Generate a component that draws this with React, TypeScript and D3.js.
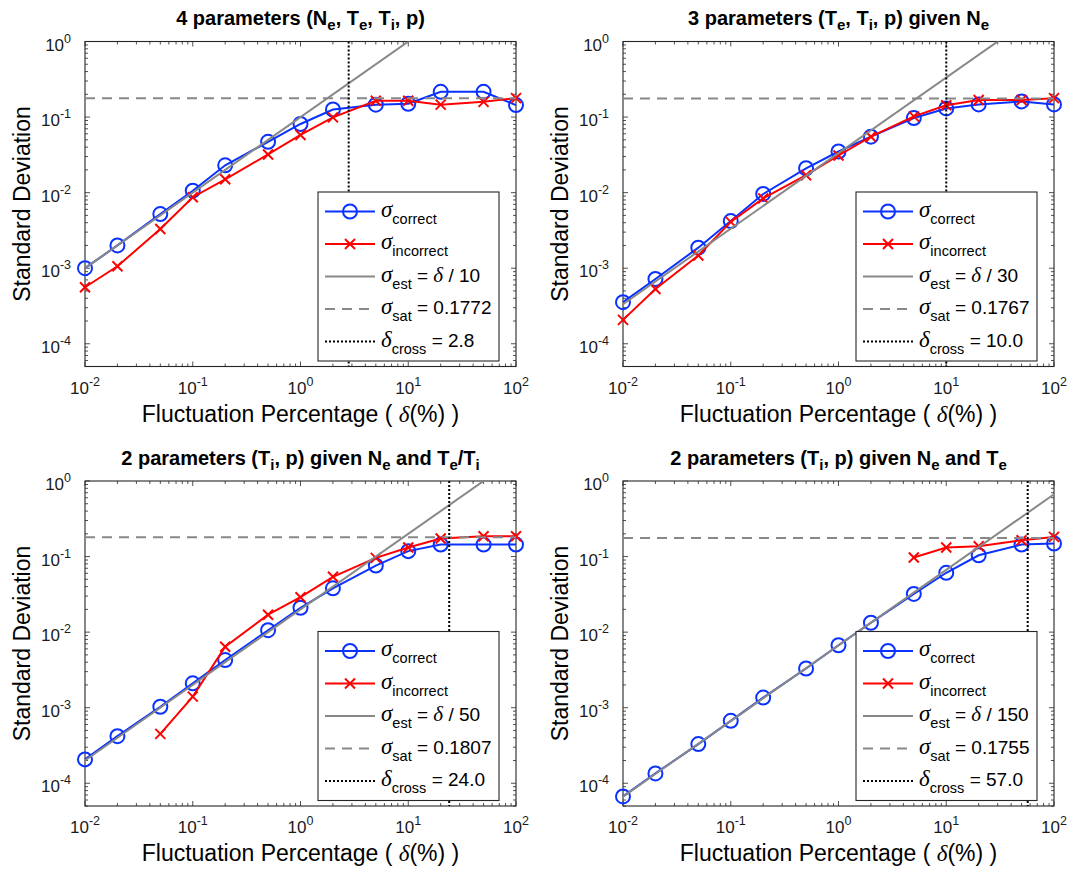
import React from 'react';
import * as d3 from 'd3';

// Fluctuation percentages at which the estimators were evaluated
const deltaPct = [0.01, 0.02, 0.05, 0.1, 0.2, 0.5, 1, 2, 5, 10, 20, 50, 100];

// Standard deviation of the correct / incorrect fits, one pair per parameter set
const correct4 = [1.0e-3, 2.0e-3, 5.2e-3, 1.06e-2, 2.3e-2, 4.7e-2, 0.081, 0.126, 0.146, 0.15, 0.216, 0.216, 0.144];
const incorrect4 = [5.6e-4, 1.06e-3, 3.3e-3, 8.7e-3, 1.5e-2, 3.2e-2, 0.058, 0.099, 0.164, 0.164, 0.146, 0.159, 0.178];

const correct3 = [3.55e-4, 7.2e-4, 1.87e-3, 4.2e-3, 9.6e-3, 0.021, 0.035, 0.055, 0.097, 0.13, 0.147, 0.161, 0.147];
const incorrect3 = [2.07e-4, 5.3e-4, 1.47e-3, 4.1e-3, 8.4e-3, 0.017, 0.031, 0.055, 0.102, 0.143, 0.168, 0.168, 0.178];

const correct2r = [2.07e-4, 4.2e-4, 1.03e-3, 2.1e-3, 4.27e-3, 0.0106, 0.021, 0.038, 0.076, 0.118, 0.144, 0.144, 0.144];
const incorrect2r = [null, null, 4.5e-4, 1.4e-3, 6.4e-3, 0.017, 0.029, 0.054, 0.096, 0.132, 0.173, 0.186, 0.186];

const correct2t = [6.7e-5, 1.35e-4, 3.3e-4, 6.7e-4, 1.36e-3, 3.3e-3, 6.7e-3, 0.0133, 0.032, 0.061, 0.104, 0.144, 0.149];
const incorrect2t = [null, null, null, null, null, null, null, null, 0.097, 0.132, 0.137, 0.164, 0.182];

// Reference lines: sigma_est = delta / divisor, saturation level, crossing point
const estDivisors = [10, 30, 50, 150];
const satLevels = [0.1772, 0.1767, 0.1807, 0.1755];
const crossPoints = [2.8, 10.0, 24.0, 57.0];

// Titles as [text, isSubscript] segments
const titles: [string, boolean][][] = [
  [['4 parameters (N', false], ['e', true], [', T', false], ['e', true], [', T', false], ['i', true], [', p)', false]],
  [['3 parameters (T', false], ['e', true], [', T', false], ['i', true], [', p) given N', false], ['e', true]],
  [['2 parameters (T', false], ['i', true], [', p) given N', false], ['e', true], [' and T', false], ['e', true], ['/T', false], ['i', true]],
  [['2 parameters (T', false], ['i', true], [', p) given N', false], ['e', true], [' and T', false], ['e', true]],
];

const xTicks = [0.01, 0.1, 1, 10, 100];
const yTicks = [1e-4, 1e-3, 1e-2, 1e-1, 1];

const SANS = "'Liberation Sans', Arial, Helvetica, sans-serif";
const SERIF = "'Liberation Serif', 'Times New Roman', serif";
const AX = '#262626';
const BLUE = '#0a32ff';
const RED = '#ff0000';
const GRAY = '#888888';

const W = 1071;
const H = 873;
const plotW = 431;
const plotH = 325;
const colX = [85, 623];
const rowY = [41.5, 481];

const x = d3.scaleLog().domain([0.01, 100]).range([0, plotW]);
const y = d3.scaleLog().domain([5e-5, 1]).range([plotH, 0]);

function minorTicks(lo: number, hi: number) {
  const out: number[] = [];
  for (let e = -5; e <= 2; e++) {
    for (let k = 2; k <= 9; k++) {
      const v = +(k * Math.pow(10, e)).toPrecision(6);
      if (v >= lo && v <= hi) out.push(v);
    }
  }
  return out;
}

function Title({ segs }: { segs: [string, boolean][] }) {
  let inSub = false;
  const parts = segs.map(([t, sub], i) => {
    let dy = 0;
    if (sub && !inSub) dy = 5;
    if (!sub && inSub) dy = -5;
    inSub = sub;
    return (
      <tspan key={i} dy={dy} fontSize={sub ? 15 : 20}>
        {t}
      </tspan>
    );
  });
  return (
    <text x={plotW / 2} y={-16.5} textAnchor="middle" fontFamily={SANS} fontWeight="bold" fontSize={20} fill="#000" style={{ whiteSpace: 'pre' }}>
      {parts}
    </text>
  );
}

function PowerLabel({ v }: { v: number }) {
  const e = Math.round(Math.log10(v));
  return (
    <>
      <tspan>10</tspan>
      <tspan fontSize={12.5} dy={-8}>
        {String(e)}
      </tspan>
    </>
  );
}

function Axes() {
  const mx = minorTicks(0.01, 100).filter((v) => !xTicks.includes(v));
  const my = minorTicks(5e-5, 1).filter((v) => !yTicks.includes(v));
  const major = 5;
  const minor = 3;
  return (
    <g stroke={AX} strokeWidth={0.8}>
      {xTicks.map((v) => (
        <g key={'mx' + v}>
          <line x1={x(v)} x2={x(v)} y1={plotH} y2={plotH - major} />
          <line x1={x(v)} x2={x(v)} y1={0} y2={major} />
        </g>
      ))}
      {mx.map((v) => (
        <g key={'nx' + v}>
          <line x1={x(v)} x2={x(v)} y1={plotH} y2={plotH - minor} />
          <line x1={x(v)} x2={x(v)} y1={0} y2={minor} />
        </g>
      ))}
      {yTicks.map((v) => (
        <g key={'my' + v}>
          <line x1={0} x2={major} y1={y(v)} y2={y(v)} />
          <line x1={plotW} x2={plotW - major} y1={y(v)} y2={y(v)} />
        </g>
      ))}
      {my.map((v) => (
        <g key={'ny' + v}>
          <line x1={0} x2={minor} y1={y(v)} y2={y(v)} />
          <line x1={plotW} x2={plotW - minor} y1={y(v)} y2={y(v)} />
        </g>
      ))}
      <rect x={0} y={0} width={plotW} height={plotH} fill="none" strokeWidth={1.1} />
    </g>
  );
}

function TickLabels() {
  return (
    <g fontFamily={SANS} fontSize={17} fill="#1a1a1a">
      {xTicks.map((v) => (
        <text key={'xl' + v} x={x(v)} y={plotH + 27} textAnchor="middle">
          <PowerLabel v={v} />
        </text>
      ))}
      {yTicks.map((v) => (
        <text key={'yl' + v} x={-14} y={y(v) + 9} textAnchor="end">
          <PowerLabel v={v} />
        </text>
      ))}
    </g>
  );
}

function CircleMark({ cx, cy }: { cx: number; cy: number }) {
  return <circle cx={cx} cy={cy} r={7} fill="none" stroke={BLUE} strokeWidth={2} />;
}

function CrossMark({ cx, cy }: { cx: number; cy: number }) {
  const s = 5;
  return (
    <g stroke={RED} strokeWidth={2}>
      <line x1={cx - s} y1={cy - s} x2={cx + s} y2={cy + s} />
      <line x1={cx - s} y1={cy + s} x2={cx + s} y2={cy - s} />
    </g>
  );
}

const DASH = '10 7';
const DOT = '2 2';

function Legend({ divisor, sat, cross }: { divisor: number; sat: number; cross: number }) {
  const lw = 181;
  const lh = 169;
  const sample = (ly: number, kind: string) => {
    if (kind === 'c')
      return (
        <g>
          <line x1={7} x2={57} y1={ly} y2={ly} stroke={BLUE} strokeWidth={2} />
          <CircleMark cx={32} cy={ly} />
        </g>
      );
    if (kind === 'i')
      return (
        <g>
          <line x1={7} x2={57} y1={ly} y2={ly} stroke={RED} strokeWidth={2} />
          <CrossMark cx={32} cy={ly} />
        </g>
      );
    if (kind === 'e') return <line x1={7} x2={57} y1={ly} y2={ly} stroke={GRAY} strokeWidth={2} />;
    if (kind === 's') return <line x1={7} x2={57} y1={ly} y2={ly} stroke={GRAY} strokeWidth={2} strokeDasharray={DASH} />;
    return <line x1={7} x2={57} y1={ly} y2={ly} stroke="#000" strokeWidth={2} strokeDasharray={DOT} />;
  };
  const rows: { sym: string; sub: string; rest: React.ReactNode; kind: string }[] = [
    { sym: 'σ', sub: 'correct', rest: null, kind: 'c' },
    { sym: 'σ', sub: 'incorrect', rest: null, kind: 'i' },
    {
      sym: 'σ',
      sub: 'est',
      rest: (
        <>
          <tspan dy={-7}>{' = '}</tspan>
          <tspan fontFamily={SERIF} fontStyle="italic" fontSize={21}>
            δ
          </tspan>
          <tspan>{' / ' + divisor}</tspan>
        </>
      ),
      kind: 'e',
    },
    { sym: 'σ', sub: 'sat', rest: <tspan dy={-7}>{' = ' + sat.toFixed(4)}</tspan>, kind: 's' },
    { sym: 'δ', sub: 'cross', rest: <tspan dy={-7}>{' = ' + cross.toFixed(1)}</tspan>, kind: 'd' },
  ];
  return (
    <g transform={`translate(${plotW - 17 - lw},${plotH - 5.5 - lh})`}>
      <rect x={0} y={0} width={lw} height={lh} fill="#fff" stroke={AX} strokeWidth={1.1} />
      {rows.map((r, i) => {
        const ly = 19.5 + 32.5 * i;
        return (
          <g key={i}>
            {sample(ly, r.kind)}
            <text x={63} y={ly + 5} fontFamily={SANS} fontSize={19} fill="#000" style={{ whiteSpace: 'pre' }}>
              <tspan fontFamily={SERIF} fontStyle="italic" fontSize={23}>
                {r.sym}
              </tspan>
              <tspan fontSize={14.5} dy={7}>
                {r.sub}
              </tspan>
              {r.rest}
            </text>
          </g>
        );
      })}
    </g>
  );
}

function Panel({ idx, correct, incorrect }: { idx: number; correct: (number | null)[]; incorrect: (number | null)[] }) {
  const left = colX[idx % 2];
  const top = rowY[Math.floor(idx / 2)];
  const clipId = 'clip' + idx;
  const line = d3
    .line<[number, number | null]>()
    .defined((d) => d[1] != null)
    .x((d) => x(d[0]))
    .y((d) => y(d[1] as number));
  const cPts = deltaPct.map((d, i) => [d, correct[i]] as [number, number | null]);
  const iPts = deltaPct.map((d, i) => [d, incorrect[i]] as [number, number | null]);
  const div = estDivisors[idx];
  const sat = satLevels[idx];
  const cross = crossPoints[idx];
  const [x0, x1] = x.domain();
  return (
    <g transform={`translate(${left},${top})`}>
      <defs>
        <clipPath id={clipId}>
          <rect x={-9} y={0} width={plotW + 18} height={plotH} />
        </clipPath>
      </defs>
      <rect x={0} y={0} width={plotW} height={plotH} fill="#fff" />
      <Axes />
      <g clipPath={`url(#${clipId})`}>
        <path d={line(cPts) || ''} fill="none" stroke={BLUE} strokeWidth={2} />
        {cPts
          .filter((p) => p[1] != null)
          .map((p, i) => (
            <CircleMark key={'c' + i} cx={x(p[0])} cy={y(p[1] as number)} />
          ))}
        <path d={line(iPts) || ''} fill="none" stroke={RED} strokeWidth={2} />
        {iPts
          .filter((p) => p[1] != null)
          .map((p, i) => (
            <CrossMark key={'i' + i} cx={x(p[0])} cy={y(p[1] as number)} />
          ))}
        <line x1={x(x0)} y1={y(x0 / div)} x2={x(x1)} y2={y(x1 / div)} stroke={GRAY} strokeWidth={2} />
        <line x1={x(x0)} x2={x(x1)} y1={y(sat)} y2={y(sat)} stroke={GRAY} strokeWidth={2} strokeDasharray={DASH} />
        <line x1={x(cross)} x2={x(cross)} y1={0} y2={plotH} stroke="#000" strokeWidth={2} strokeDasharray={DOT} />
      </g>
      <Legend divisor={div} sat={sat} cross={cross} />
      <TickLabels />
      <Title segs={titles[idx]} />
      <text x={plotW / 2} y={plotH + 55} textAnchor="middle" fontFamily={SANS} fontSize={23} fill="#000" style={{ whiteSpace: 'pre' }}>
        <tspan>{'Fluctuation Percentage ( '}</tspan>
        <tspan fontFamily={SERIF} fontStyle="italic">
          δ
        </tspan>
        <tspan>{'(%) )'}</tspan>
      </text>
      <text
        transform={`translate(${-55.5},${plotH / 2}) rotate(-90)`}
        textAnchor="middle"
        fontFamily={SANS}
        fontSize={23}
        fill="#000"
      >
        Standard Deviation
      </text>
    </g>
  );
}

export default function App() {
  return (
    <svg
      width={W}
      height={H}
      viewBox={`0 0 ${W} ${H}`}
      style={{ position: 'absolute', left: 0, top: 0, background: '#fff', display: 'block' }}
    >
      <rect x={0} y={0} width={W} height={H} fill="#fff" />
      <Panel idx={0} correct={correct4} incorrect={incorrect4} />
      <Panel idx={1} correct={correct3} incorrect={incorrect3} />
      <Panel idx={2} correct={correct2r} incorrect={incorrect2r} />
      <Panel idx={3} correct={correct2t} incorrect={incorrect2t} />
    </svg>
  );
}
